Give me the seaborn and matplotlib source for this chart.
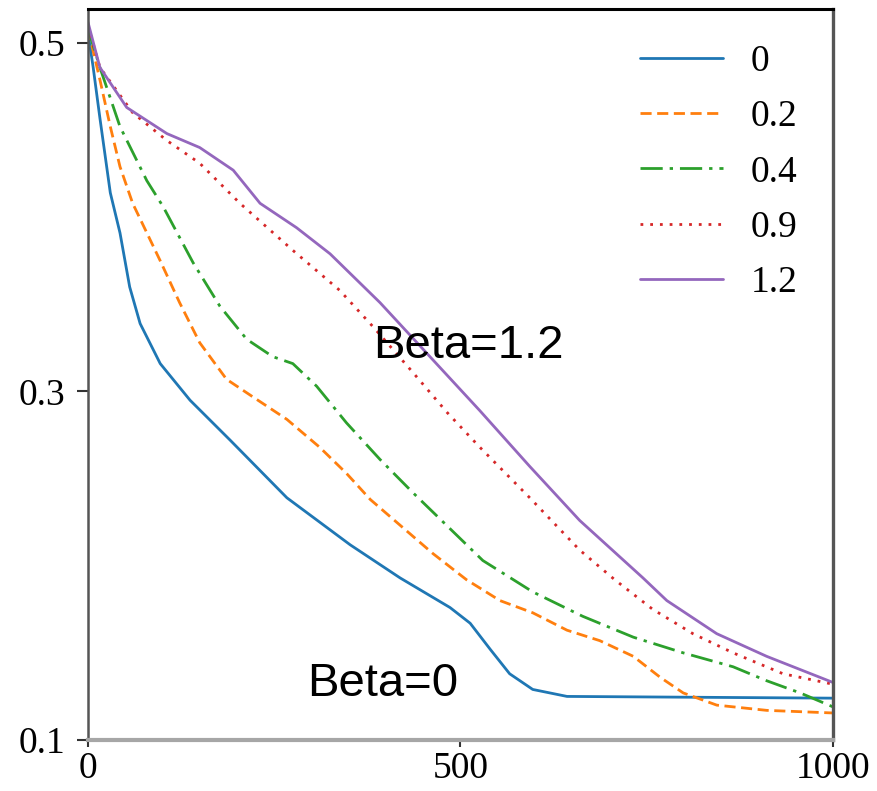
import matplotlib
matplotlib.use("Agg")
import matplotlib.pyplot as plt
import seaborn as sns

# values
beta_labels = ["0", "0.2", "0.4", "0.9", "1.2"]

x_b0 = [0, 7, 16, 30, 43, 56, 70, 97, 137, 191, 267, 352, 419, 486, 513, 540, 566, 597, 643, 1000]
y_b0 = [0.506, 0.486, 0.457, 0.414, 0.391, 0.36, 0.339, 0.316, 0.295, 0.272, 0.239, 0.212,
        0.193, 0.176, 0.167, 0.152, 0.138, 0.129, 0.125, 0.124]

x_b02 = [0, 16, 30, 43, 60, 97, 123, 150, 186, 221, 267, 311, 347, 379, 463, 508, 553, 597,
         643, 687, 732, 768, 799, 844, 911, 1000]
y_b02 = [0.508, 0.479, 0.452, 0.429, 0.408, 0.375, 0.351, 0.328, 0.307, 0.297, 0.284, 0.268,
         0.253, 0.238, 0.207, 0.192, 0.180, 0.173, 0.163, 0.157, 0.148, 0.136, 0.127, 0.120,
         0.117, 0.1155]

x_b04 = [0, 16, 43, 79, 101, 141, 177, 213, 248, 275, 307, 347, 392, 436, 530, 597, 664, 732,
         799, 866, 911, 956, 1000]
y_b04 = [0.508, 0.486, 0.452, 0.421, 0.406, 0.374, 0.349, 0.330, 0.320, 0.316, 0.303, 0.282,
         0.261, 0.242, 0.203, 0.185, 0.171, 0.159, 0.150, 0.142, 0.134, 0.127, 0.119]

x_b09 = [0, 16, 60, 106, 150, 204, 275, 338, 383, 436, 482, 526, 593, 660, 707, 758, 812, 866,
         933, 1000]
y_b09 = [0.51, 0.486, 0.46, 0.444, 0.431, 0.408, 0.381, 0.358, 0.337, 0.311, 0.288, 0.268,
         0.239, 0.209, 0.192, 0.175, 0.161, 0.150, 0.138, 0.132]

x_b12 = [0, 16, 52, 106, 150, 195, 231, 280, 325, 392, 459, 526, 593, 660, 745, 777, 844, 911, 1000]
y_b12 = [0.512, 0.486, 0.463, 0.448, 0.440, 0.427, 0.408, 0.394, 0.379, 0.351, 0.320, 0.289,
         0.257, 0.226, 0.193, 0.180, 0.161, 0.148, 0.133]

series_x = [x_b0, x_b02, x_b04, x_b09, x_b12]
series_y = [y_b0, y_b02, y_b04, y_b09, y_b12]

colors = ["#1f77b4", "#ff7f0e", "#2ca02c", "#d62728", "#9467bd"]
styles = ["-", (0, (4, 2)), (0, (8, 2.5, 1.2, 2.5)), (0, (1.0, 2.5)), "-"]

sns.set_style("ticks")
plt.rcParams["font.family"] = ["Liberation Serif", "DejaVu Serif"]

fig = plt.figure(figsize=(8.77, 7.91), dpi=100)
ax = fig.add_axes([0.1003, 0.0645, 0.8495, 0.9241])

for xs, ys, lab, c, ls in zip(series_x, series_y, beta_labels, colors, styles):
    sns.lineplot(x=xs, y=ys, ax=ax, color=c, linestyle=ls, linewidth=2.0, label=lab)

ax.set_xlim(0, 1000)
ax.set_ylim(0.1, 0.5195)
ax.set_xticks([0, 500, 1000])
ax.set_yticks([0.1, 0.3, 0.5])
ax.set_xticklabels(["0", "500", "1000"])
ax.set_yticklabels(["0.1", "0.3", "0.5"])
ax.tick_params(axis="both", labelsize=27, direction="out", width=1.5,
               colors="#333333", labelcolor="black", bottom=True, left=True)
ax.tick_params(axis="x", length=5, pad=3)
ax.tick_params(axis="y", length=8, pad=8)

ax.spines["top"].set_color("black")
ax.spines["top"].set_linewidth(2.2)
ax.spines["right"].set_color("#555555")
ax.spines["right"].set_linewidth(2.4)
ax.spines["left"].set_color("#555555")
ax.spines["left"].set_linewidth(1.8)
ax.spines["bottom"].set_color("#a6a6a6")
ax.spines["bottom"].set_linewidth(3.0)

ax.text(383, 0.3192, "Beta=1.2", fontsize=34, family="Liberation Sans", color="black",
        ha="left", va="baseline")
ax.text(294, 0.1255, "Beta=0", fontsize=34, family="Liberation Sans", color="black",
        ha="left", va="baseline")

leg = ax.legend(loc="upper left", bbox_to_anchor=(0.741, 0.951), frameon=False, fontsize=27,
                handlelength=2.2, handletextpad=0.75, labelspacing=0.55, borderpad=0,
                borderaxespad=0)
for t in leg.get_texts():
    t.set_color("black")

fig.savefig("out.png", dpi=100)
